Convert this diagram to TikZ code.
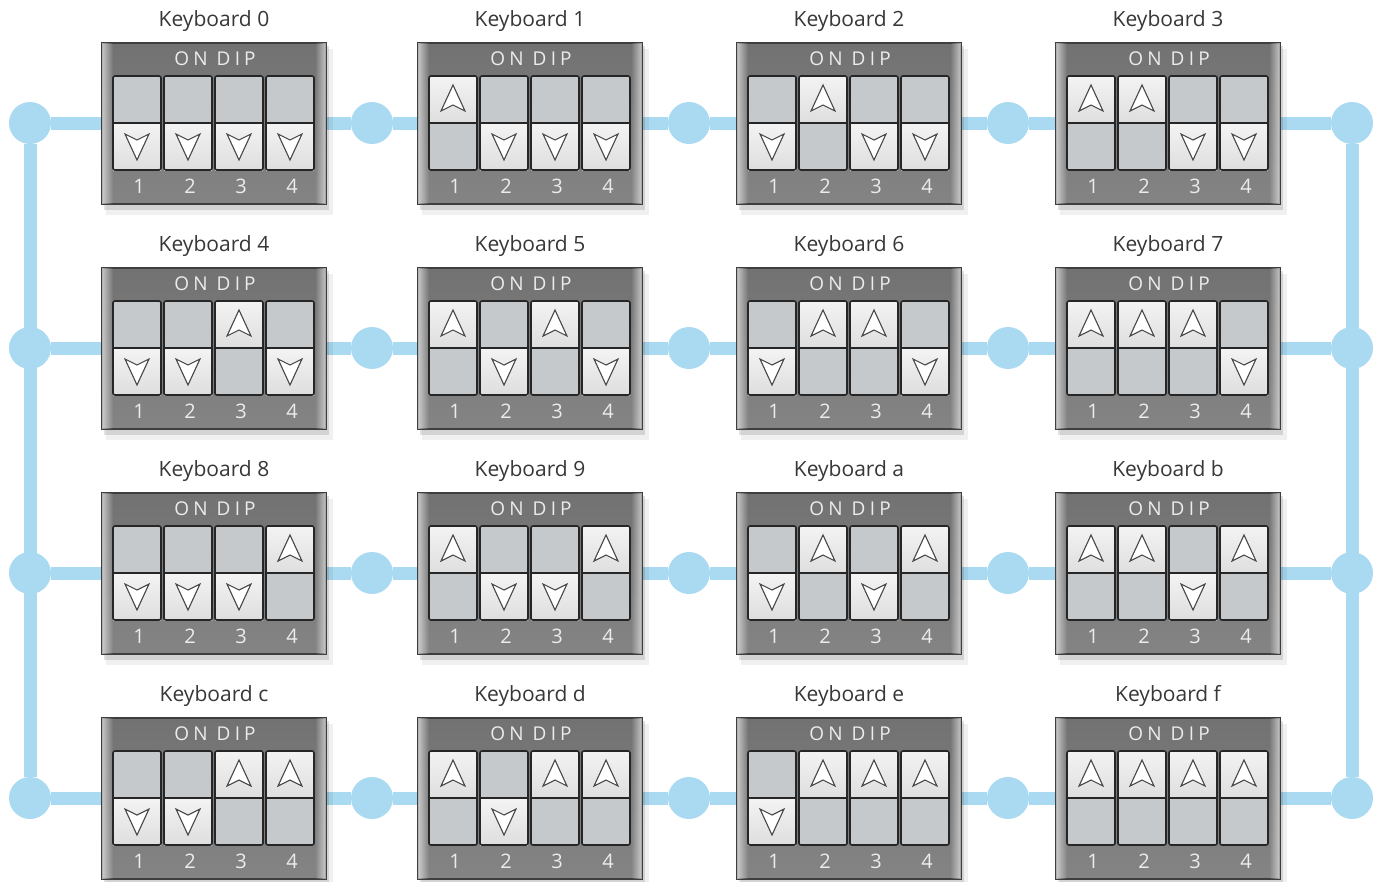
\documentclass[tikz,border=0pt]{standalone}
\usepackage{fontspec}
\setmainfont{Open Sans}
\usetikzlibrary{calc, fadings}

\definecolor{wireblue}{RGB}{170,218,242}
\definecolor{caseedge}{RGB}{62,62,62}
\definecolor{casetop}{RGB}{114,114,114}
\definecolor{casemid}{RGB}{150,150,150}
\definecolor{casebot}{RGB}{132,132,132}
\definecolor{cellhi}{RGB}{243,243,243}
\definecolor{cellon}{RGB}{222,222,222}
\definecolor{celloff}{RGB}{198,201,204}
\definecolor{titlegray}{RGB}{55,55,55}
\definecolor{dipgray}{RGB}{236,236,236}

\tikzfading[name=fade right, left color=transparent!0, right color=transparent!100]
\tikzfading[name=fade left, left color=transparent!100, right color=transparent!0]

\tikzset{
    dart up/.pic={\filldraw[arrowmark] (0,-14) -- (12,12) -- (0,6) -- (-12,12) -- cycle;},
    dart down/.pic={\filldraw[arrowmark] (0,14) -- (12,-12) -- (0,-6) -- (-12,-12) -- cycle;}
}

\begin{document}
\begin{tikzpicture}[x=1pt, y=-1pt]
    \tikzstyle{joint} = [circle, fill=wireblue, minimum size=42pt, inner sep=0pt]
    \tikzstyle{wire} = [line width=13pt, wireblue]
    \tikzstyle{case} = [rectangle, draw=caseedge, line width=2pt, minimum width=224pt, minimum height=161pt, inner sep=0pt,
        top color=casetop, middle color=casemid, bottom color=casebot]
    \tikzstyle{switch} = [rectangle, draw=black!85, line width=1.6pt, rounded corners=2pt, minimum width=48pt, minimum height=94pt, inner sep=0pt]
    \tikzstyle{arrowmark} = [draw=black!72, fill=white, line width=1.1pt, line join=miter]
    \tikzstyle{title} = [font=\fontsize{21}{24}\selectfont, text=titlegray]
    \tikzstyle{dip} = [font=\fontsize{19}{21}\selectfont\addfontfeature{LetterSpace=22}, text=dipgray]
    \tikzstyle{number} = [font=\fontsize{20}{24}\selectfont, text=dipgray]

    \useasboundingbox (0,0) rectangle (1380,881);

    % Wiring ----------------------------------------
    \foreach \r in {0,...,3}{
        \pgfmathsetmacro\wy{123+225*\r}
        \node[joint] (jl\r) at (30,\wy) {};
        \node[joint] (ja\r) at (372,\wy) {};
        \node[joint] (jb\r) at (689,\wy) {};
        \node[joint] (jc\r) at (1008,\wy) {};
        \node[joint] (jr\r) at (1352,\wy) {};
        \draw[wire] (jl\r) -- (ja\r) -- (jb\r) -- (jc\r) -- (jr\r);
    }
    \draw[wire] (jl0) -- (jl3);
    \draw[wire] (jr0) -- (jr3);
    % -----------------------------------------------

    % Keyboards
    \foreach \n/\lab in {0/0,1/1,2/2,3/3,4/4,5/5,6/6,7/7,8/8,9/9,10/a,11/b,12/c,13/d,14/e,15/f}{
        \pgfmathtruncatemacro\col{mod(\n,4)}
        \pgfmathtruncatemacro\row{floor(\n/4)}
        \pgfmathsetmacro\X{{102,418,737,1056}[\col]}
        \pgfmathsetmacro\Y{43+225*\row}

        \fill[black, opacity=.06] (\X+4,\Y+6) rectangle (\X+231,\Y+172);
        \fill[black, opacity=.12] (\X+2,\Y+3) rectangle (\X+227,\Y+167);
        \node[case] (kb\lab) at (\X+112,\Y+80.5) {};
        \fill[white, opacity=.6, path fading=fade right] ($(kb\lab.north west)+(1,1)$) rectangle ($(kb\lab.south west)+(12,-1)$);
        \fill[white, opacity=.6, path fading=fade left] ($(kb\lab.north east)+(-12,1)$) rectangle ($(kb\lab.south east)+(-1,-1)$);

        \node[title] (t\lab) at (\X+112,\Y-22) {Keyboard \lab};
        \node[dip] (d\lab) at (\X+113,\Y+16) {ON DIP};

        \foreach \k in {0,...,3}{
            \pgfmathtruncatemacro\up{mod(floor(\n/2^\k),2)}
            \pgfmathsetmacro\sx{\X+11+51*\k}
            \ifnum\up=1
                \shade[top color=cellhi, bottom color=cellon] (\sx,\Y+33) rectangle (\sx+48,\Y+81);
                \fill[celloff] (\sx,\Y+81) rectangle (\sx+48,\Y+127);
                \pic at (\sx+24,\Y+56) {dart up};
            \else
                \fill[celloff] (\sx,\Y+33) rectangle (\sx+48,\Y+81);
                \shade[top color=cellhi, bottom color=cellon] (\sx,\Y+81) rectangle (\sx+48,\Y+127);
                \pic at (\sx+24,\Y+103) {dart down};
            \fi
            \node[switch] (sw\lab\k) at (\sx+24,\Y+80) {};
            \draw[black!85, line width=1.4pt] (sw\lab\k.west) -- (sw\lab\k.east);
            \pgfmathtruncatemacro\num{\k+1}
            \node[number] (n\lab\k) at (\sx+26,\Y+143) {\num};
        }
    }
\end{tikzpicture}
\end{document}
